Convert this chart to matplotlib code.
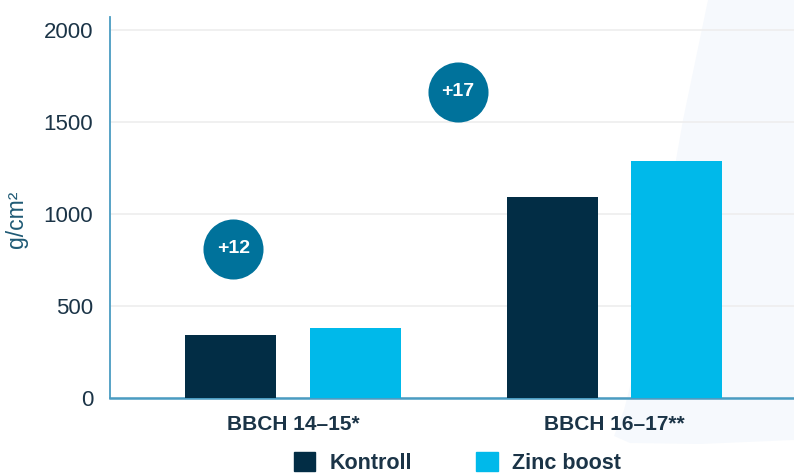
import matplotlib.pyplot as plt
from matplotlib.patches import Polygon, Patch
import numpy as np

plt.rcParams["font.family"] = ["Liberation Sans", "DejaVu Sans"]

# ------------------------------------------
# data
# ------------------------------------------
stages = ["BBCH 14–15*", "BBCH 16–17**"]
kontroll = [340, 1090]
zinc_boost = [380, 1290]

# gain badges: label, x position (category units), height (g/cm²)
badge_labels = ["+12", "+17"]
badge_x = [-0.185, 0.513]
badge_y = [810, 1663]

DARK = "#022d45"
LIGHT = "#00b9ea"
BADGE = "#00729b"
TEXT = "#1b3447"
AXIS = "#4a9cc2"

# ------------------------------------------
# figure
# ------------------------------------------
fig = plt.figure(figsize=(7.94, 4.73), dpi=100)
W, H = 794, 473

# soft background shape on the right
bg_px = [(708, 0), (683, 120), (662, 240), (642, 340), (624, 410), (614, 436),
         (630, 443), (700, 444), (794, 440), (794, 0)]
bg = Polygon([(x / W, 1 - y / H) for x, y in bg_px], closed=True,
             transform=fig.transFigure, facecolor="#f6f9fd",
             edgecolor="none", zorder=0)
fig.patches.append(bg)

ax = fig.add_axes([110 / W, 1 - 398 / H, 1 - 110 / W, (398 - 17) / H])
ax.set_facecolor("none")
ax.set_zorder(2)

x = np.arange(len(stages))
width = 0.283
offset = 0.194

ax.bar(x - offset, kontroll, width, color=DARK, zorder=3, label="Kontroll")
ax.bar(x + offset, zinc_boost, width, color=LIGHT, zorder=3, label="Zinc boost")

# gain badges
ax.scatter(badge_x, badge_y, s=1870, color=BADGE, zorder=4, linewidths=0)
for lbl, bx, by in zip(badge_labels, badge_x, badge_y):
    ax.text(bx, by, lbl, color="white", fontsize=14, fontweight="bold",
            ha="center", va="center", zorder=5)

ax.set_xlim(-0.569, 1.558)
ax.set_ylim(0, 2070)
ax.set_yticks([0, 500, 1000, 1500, 2000])
ax.set_xticks(x)
ax.set_xticklabels(stages, fontsize=15, fontweight="bold", color=TEXT)

ax.tick_params(axis="y", length=0, pad=12, labelsize=16, labelcolor=TEXT)
ax.tick_params(axis="x", length=0, pad=12)

ax.grid(axis="y", color="#eeeeee", linewidth=1.2, zorder=1)

for side in ["top", "right"]:
    ax.spines[side].set_visible(False)
ax.spines["left"].set_color(AXIS)
ax.spines["bottom"].set_color(AXIS)
ax.spines["left"].set_linewidth(1.3)
ax.spines["bottom"].set_linewidth(1.8)

ax.set_ylabel("g/cm²", fontsize=16.5, color="#1f5a75")
ax.yaxis.set_label_coords(-0.12, 0.47)

# legend along the bottom edge
handles = [Patch(color=DARK, label="Kontroll"), Patch(color=LIGHT, label="Zinc boost")]
leg = fig.legend(handles=handles, loc="lower left",
                 bbox_to_anchor=(285 / W, -0.02), ncol=2, frameon=False,
                 handlelength=1.0, handleheight=1.0, handletextpad=0.65,
                 columnspacing=3.0, borderaxespad=0,
                 prop={"size": 15.5, "weight": "bold"})
for t in leg.get_texts():
    t.set_color(TEXT)
leg.set_zorder(3)

plt.savefig("out.png", dpi=100)
plt.close()
